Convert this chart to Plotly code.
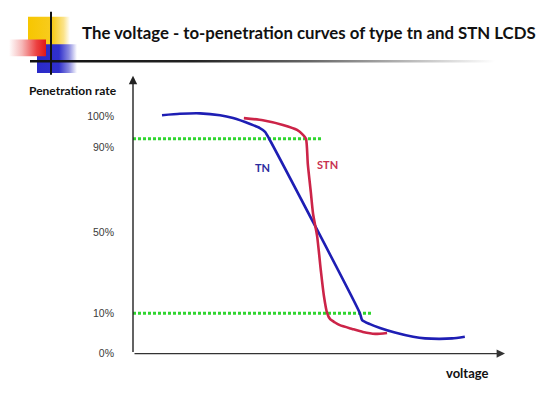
import plotly.graph_objects as go

# ---- data (voltage in arbitrary units, penetration in chart units) ----
tn_voltage = [0.78, 1.26, 1.80, 2.34, 2.69, 3.15, 3.41, 3.55, 3.66, 6.10, 6.16, 6.37, 6.64, 7.04, 7.53, 7.85, 8.25, 8.58, 8.92]
tn_penetration = [100.4, 101.0, 101.2, 100.4, 99.2, 96.7, 95.0, 93.4, 90.5, 17.0, 14.1, 12.4, 10.8, 8.9, 7.1, 6.4, 6.2, 6.4, 7.1]

stn_voltage = [2.98, 3.49, 4.03, 4.41, 4.57, 4.65, 4.70, 4.78, 4.84, 4.95, 5.05, 5.13, 5.22, 5.30, 5.43, 5.56, 5.89, 6.18, 6.51, 6.83]
stn_penetration = [99.2, 98.3, 96.3, 94.2, 92.1, 90.5, 79.7, 68.0, 58.9, 49.4, 34.9, 24.5, 17.0, 14.5, 13.1, 12.0, 10.4, 9.1, 8.3, 8.7]

ref_levels = [90.5, 17.0]
ref_ends = [5.08, 6.45]

tick_vals = [100, 87.1, 51.0, 17.0, 0]
tick_text = ["100%", "90%", "50%", "10%", "0%"]

W, H = 550, 398
X_MAX, Y_MAX = 10, 117

fig = go.Figure()

# ---- decoration (page-pixel axes x2/y2) ----
def grad_rect(x0, x1, y0, y1, cs):
    fig.add_trace(go.Scatter(
        x=[x0, x1, x1, x0, x0], y=[y0, y0, y1, y1, y0],
        xaxis="x2", yaxis="y2", mode="lines", line=dict(width=0),
        fill="toself", fillgradient=dict(type="horizontal", colorscale=cs),
        hoverinfo="skip", showlegend=False))

grad_rect(28, 70, 17, 55, [[0, "#f7c600"], [0.6, "#f8cc20"], [0.85, "#fbe38a"], [1, "#ffffff"]])
grad_rect(37, 77, 45, 74, [[0, "#2a2ac8"], [0.55, "#3030cc"], [0.8, "#8c8ce0"], [1, "#ffffff"]])
grad_rect(9, 46, 40, 57, [[0, "#ffffff"], [0.35, "#f6b8b8"], [0.75, "#ec4040"], [1, "#e01818"]])
grad_rect(30, 495, 61, 63.5, [[0, "#111111"], [0.35, "#222222"], [0.6, "#666666"], [0.82, "#bbbbbb"], [1, "#ffffff"]])
fig.add_trace(go.Scatter(x=[51, 51], y=[12, 76], xaxis="x2", yaxis="y2", mode="lines",
                         line=dict(color="#111111", width=2), hoverinfo="skip", showlegend=False))

# ---- reference lines ----
for lvl, xe in zip(ref_levels, ref_ends):
    fig.add_trace(go.Scatter(x=[0, xe], y=[lvl, lvl], mode="lines",
                             line=dict(color="#2ed62e", width=3, dash="3px,2px"),
                             hoverinfo="skip", showlegend=False))

# ---- curves ----
fig.add_trace(go.Scatter(x=tn_voltage, y=tn_penetration, mode="lines",
                         line=dict(color="#1e1eb4", width=2.6, shape="spline", smoothing=0.6),
                         name="TN", showlegend=False))
fig.add_trace(go.Scatter(x=stn_voltage, y=stn_penetration, mode="lines",
                         line=dict(color="#cc2448", width=2.6, shape="spline", smoothing=0.6),
                         name="STN", showlegend=False))

annotations = [
    # axes arrows
    dict(x=0, y=Y_MAX, ax=0, ay=0, xref="x", yref="y", axref="x", ayref="y",
         showarrow=True, arrowhead=2, arrowsize=1.2, arrowwidth=1.4, arrowcolor="#222222", text=""),
    dict(x=X_MAX, y=0, ax=0, ay=0, xref="x", yref="y", axref="x", ayref="y",
         showarrow=True, arrowhead=2, arrowsize=1.2, arrowwidth=1.4, arrowcolor="#333333", text=""),
    # curve labels
    dict(x=3.47, y=78.4, xref="x", yref="y", text="<b>TN</b>", showarrow=False,
         font=dict(family="Lato", size=11, color="#2b2b9e")),
    dict(x=5.22, y=79.7, xref="x", yref="y", text="<b>STN</b>", showarrow=False,
         font=dict(family="Lato", size=11, color="#c83050")),
    # texts
    dict(x=80 / W, y=1 - 33 / H, xref="paper", yref="paper", xanchor="left", yanchor="middle",
         text="<b>The voltage - to-penetration curves of type tn and STN LCDS</b>", showarrow=False,
         font=dict(family="Lato", size=16.8, color="#111111")),
    dict(x=27 / W, y=1 - 92 / H, xref="paper", yref="paper", xanchor="left", yanchor="middle",
         text="<b>Penetration rate</b>", showarrow=False,
         font=dict(family="Lato", size=12, color="#111111")),
    dict(x=467 / W, y=1 - 379 / H, xref="paper", yref="paper", xanchor="center", yanchor="middle",
         text="<b>voltage</b>", showarrow=False,
         font=dict(family="Lato", size=13, color="#111111")),
]

fig.update_layout(
    width=W, height=H, margin=dict(l=0, r=0, t=0, b=0),
    paper_bgcolor="white", plot_bgcolor="rgba(0,0,0,0)",
    xaxis=dict(domain=[133 / W, 505 / W], range=[0, X_MAX], visible=False, fixedrange=True),
    yaxis=dict(domain=[1 - 359 / H, 1 - 77 / H], range=[0, Y_MAX], showgrid=False, zeroline=False,
               showline=False, ticks="", tickvals=tick_vals, ticktext=tick_text,
               ticklabelstandoff=18, tickfont=dict(family="Liberation Sans", size=10.5, color="#3a3a3a")),
    xaxis2=dict(domain=[0, 1], range=[0, W], visible=False, anchor="y2"),
    yaxis2=dict(domain=[0, 1], range=[H, 0], visible=False, anchor="x2"),
    annotations=annotations,
    showlegend=False,
)

post = (
    "document.documentElement.style.overflow='hidden';"
    "document.body.style.margin='0';document.body.style.overflow='hidden';"
)
fig.write_html("out.html", config={"displayModeBar": False}, post_script=post)
